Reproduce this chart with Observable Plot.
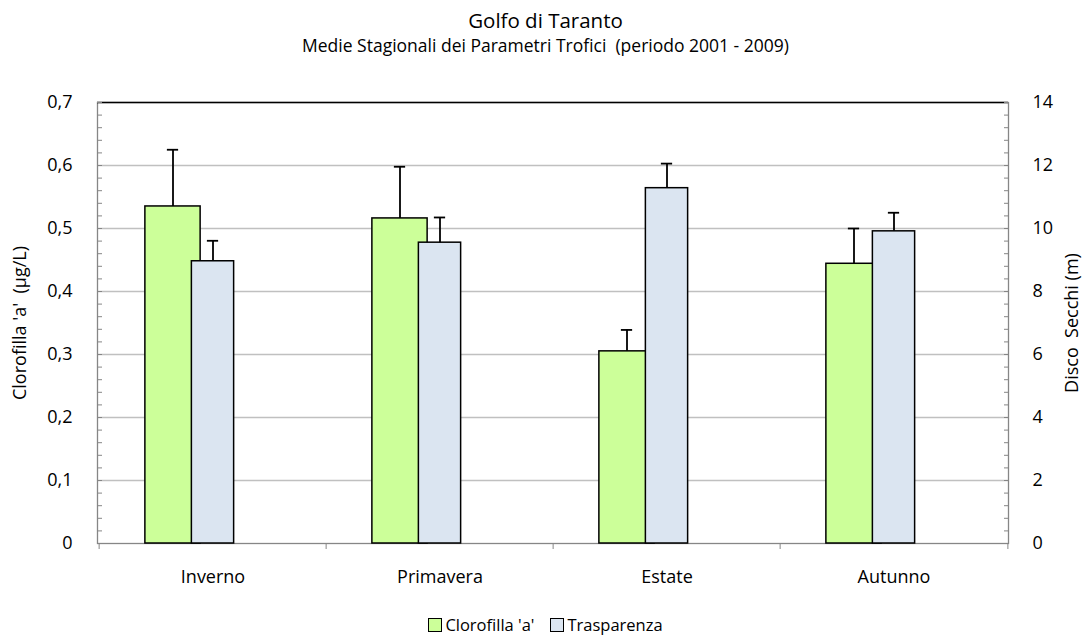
<!DOCTYPE html>
<html>
<head>
<meta charset="utf-8">
<script src="https://cdn.jsdelivr.net/npm/d3@7"></script>
<script src="https://cdn.jsdelivr.net/npm/@observablehq/plot@0.6"></script>
<style>
  body { margin: 0; background: #fff; font-family: "Open Sans", sans-serif; color: #000; }
  #wrap { width: 1091px; height: 636px; position: relative; overflow: hidden; }
  #head { height: 80px; position: relative; }
  #head .t1 { position: absolute; top: 6px; left: 0; width: 1091px; text-align: center; font-size: 20.5px; line-height: 28px; }
  #head .t2 { position: absolute; top: 33px; left: 0; width: 1091px; text-align: center; font-size: 17.5px; line-height: 24px; }
  #chart svg { display: block; }
  #legend { position: absolute; top: 613px; left: 0; width: 1091px; text-align: center; font-size: 16.5px; line-height: 24px; }
  #legend span.item { display: inline-block; margin: 0 8px; }
  #legend span.sw { display: inline-block; width: 12px; height: 12px; border: 1px solid #000; vertical-align: -1px; margin-right: 3px; }
</style>
</head>
<body>
<div id="wrap">
  <div id="head">
    <div class="t1">Golfo di Taranto</div>
    <div class="t2">Medie Stagionali dei Parametri Trofici&nbsp; (periodo 2001 - 2009)</div>
  </div>
  <div id="chart"></div>
  <div id="legend"></div>
</div>
<script>
// Seasonal means, Gulf of Taranto 2001-2009
const seasons = ["Inverno", "Primavera", "Estate", "Autunno"];
const clorofilla = [0.535, 0.516, 0.305, 0.444];       // µg/L
const clorofillaErr = [0.090, 0.082, 0.034, 0.056];
const trasparenza = [8.96, 9.55, 11.28, 9.91];        // m (Secchi disk)
const trasparenzaErr = [0.65, 0.80, 0.78, 0.59];

const leftTicks = [0, 0.1, 0.2, 0.3, 0.4, 0.5, 0.6, 0.7];
const rightTicks = [0, 2, 4, 6, 8, 10, 12, 14];
const seriesNames = ["Clorofilla 'a'", "Trasparenza"];
const colors = ["#ccff99", "#dbe5f1"];

// secondary axis (0-14 m) shares the primary scale (0-0.7)
const ratio = rightTicks[rightTicks.length - 1] / leftTicks[leftTicks.length - 1];
const minorTicks = d3.range(0, 36).map(i => +(i * 0.02).toFixed(2));

const data = seasons.map((s, i) => ({
  season: s,
  chl: clorofilla[i],
  chlTop: clorofilla[i] + clorofillaErr[i],
  sec: trasparenza[i] / ratio,
  secTop: (trasparenza[i] + trasparenzaErr[i]) / ratio
}));

const W = 1091, mL = 97, mR = 83;
const bw = (W - mL - mR) / seasons.length;
const fmtLeft = d => d === 0 ? "0" : d.toFixed(1).replace(".", ",");
const axisGrey = "#868686";
const fs = 18;

const plot = Plot.plot({
  width: W,
  height: 520,
  marginLeft: mL,
  marginRight: mR,
  marginTop: 22,
  marginBottom: 57,
  style: { fontFamily: "Open Sans, sans-serif", fontSize: fs + "px", color: "#000", background: "#fff" },
  x: { type: "band", domain: seasons, paddingInner: 0, paddingOuter: 0, axis: null },
  y: { domain: [0, 0.7], axis: null },
  marks: [
    Plot.ruleY(leftTicks.slice(1, -1), { stroke: "#c0c0c0", strokeWidth: 1.3 }),
    Plot.frame({ stroke: axisGrey, strokeWidth: 1.3 }),
    Plot.ruleY([0.7], { stroke: "#000", strokeWidth: 1.5 }),
    // minor ticks, inside the plot area
    Plot.axisY(minorTicks, { anchor: "left", tickSize: -5, tickFormat: () => "", stroke: axisGrey, label: null }),
    Plot.axisY(minorTicks, { anchor: "right", tickSize: -5, tickFormat: () => "", stroke: axisGrey, label: null }),
    // tick labels
    Plot.axisY(leftTicks, { anchor: "left", tickSize: 0, tickPadding: 25, tickFormat: fmtLeft, fontSize: fs, label: null }),
    Plot.axisY(leftTicks, { anchor: "right", tickSize: 0, tickPadding: 24, tickFormat: d => String(Math.round(d * ratio)), fontSize: fs, label: null }),
    // category boundary ticks
    Plot.axisX(seasons, { anchor: "bottom", tickSize: 6, tickFormat: () => "", stroke: axisGrey, dx: -bw / 2, label: null }),
    Plot.axisX([seasons[seasons.length - 1]], { anchor: "bottom", tickSize: 6, tickFormat: () => "", stroke: axisGrey, dx: bw / 2, label: null }),
    Plot.axisX(seasons, { anchor: "bottom", tickSize: 0, tickPadding: 27, fontSize: fs, label: null }),
    // Clorofilla bars + error bars
    Plot.barY(data, { x: "season", y: "chl", fill: colors[0], stroke: "#000", strokeWidth: 1.5, insetLeft: bw / 2 - 40 - 28, insetRight: bw / 2 + 40 - 28 }),
    Plot.ruleX(data, { x: "season", y1: "chl", y2: "chlTop", dx: -40, stroke: "#000", strokeWidth: 1.8 }),
    Plot.tickY(data, { x: "season", y: "chlTop", stroke: "#000", strokeWidth: 1.8, insetLeft: bw / 2 - 40 - 6, insetRight: bw / 2 + 40 - 6 }),
    // Trasparenza bars + error bars (secondary axis)
    Plot.barY(data, { x: "season", y: "sec", fill: colors[1], stroke: "#000", strokeWidth: 1.5, insetLeft: bw / 2 - 21.5, insetRight: bw / 2 - 21.5 }),
    Plot.ruleX(data, { x: "season", y1: "sec", y2: "secTop", stroke: "#000", strokeWidth: 1.8 }),
    Plot.tickY(data, { x: "season", y: "secTop", stroke: "#000", strokeWidth: 1.8, insetLeft: bw / 2 - 6, insetRight: bw / 2 - 6 }),
    // axis titles
    Plot.text(["Clorofilla 'a'  (µg/L)"], { frameAnchor: "left", textAnchor: "middle", dx: -77, rotate: -90, fontSize: fs, text: d => d }),
    Plot.text(["Disco  Secchi (m)"], { frameAnchor: "right", textAnchor: "middle", dx: 64, rotate: -90, fontSize: fs, text: d => d })
  ]
});
plot.querySelectorAll("text").forEach(t => t.setAttribute("fill", "#000"));
document.getElementById("chart").appendChild(plot);

const legend = document.getElementById("legend");
seriesNames.forEach((name, i) => {
  const item = document.createElement("span");
  item.className = "item";
  item.innerHTML = `<span class="sw" style="background:${colors[i]}"></span>${name}`;
  legend.appendChild(item);
});
</script>
</body>
</html>
